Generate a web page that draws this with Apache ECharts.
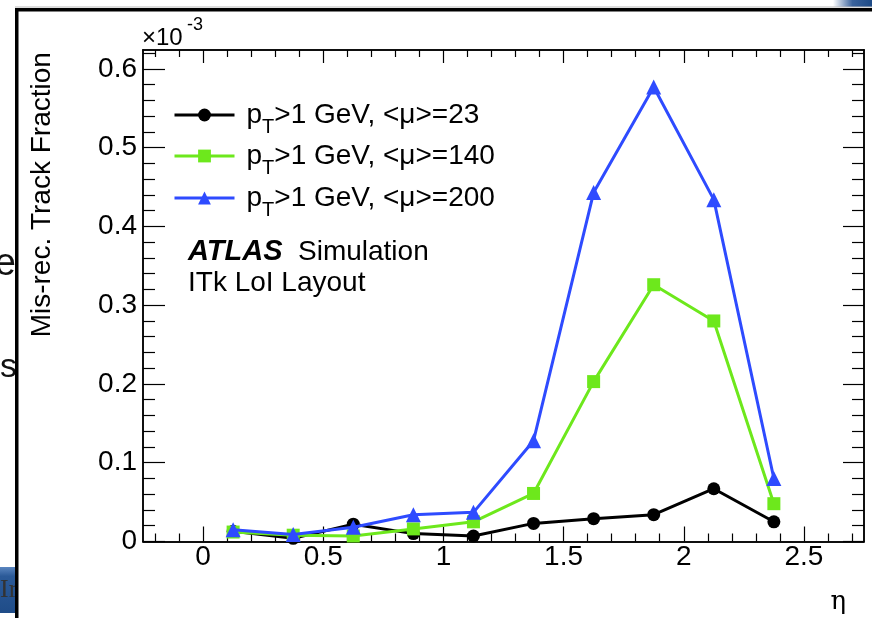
<!DOCTYPE html>
<html>
<head>
<meta charset="utf-8">
<script src="https://cdn.jsdelivr.net/npm/echarts@6/dist/echarts.min.js"></script>
<style>html,body{margin:0;padding:0;background:#fff;}#chart{width:872px;height:618px;}</style>
</head>
<body>
<div id="chart"></div>
<script>
// ---- data (values in units of 1e-3) ----
const etaCenters = [0.125, 0.375, 0.625, 0.875, 1.125, 1.375, 1.625, 1.875, 2.125, 2.375];
const mu23  = [0.013, 0.004, 0.022, 0.010, 0.007, 0.023, 0.029, 0.034, 0.067, 0.025];
const mu140 = [0.012, 0.008, 0.007, 0.016, 0.025, 0.061, 0.203, 0.326, 0.280, 0.048];
const mu200 = [0.015, 0.009, 0.018, 0.034, 0.037, 0.128, 0.443, 0.577, 0.434, 0.080];
const seriesNames = ['mu23', 'mu140', 'mu200'];
const seriesLabels = ['>1 GeV, <\u03bc>=23', '>1 GeV, <\u03bc>=140', '>1 GeV, <\u03bc>=200'];
const xMajorTicks = [0, 0.5, 1, 1.5, 2, 2.5];
const xMinorTicks = [-0.2, -0.1, 0.1, 0.2, 0.3, 0.4, 0.6, 0.7, 0.8, 0.9, 1.1, 1.2, 1.3, 1.4, 1.6, 1.7, 1.8, 1.9, 2.1, 2.2, 2.3, 2.4, 2.6, 2.7];
const yMajorTicks = [0, 0.1, 0.2, 0.3, 0.4, 0.5, 0.6];
const yMinorTicks = [0.02, 0.04, 0.06, 0.08, 0.12, 0.14, 0.16, 0.18, 0.22, 0.24, 0.26, 0.28, 0.32, 0.34, 0.36, 0.38, 0.42, 0.44, 0.46, 0.48, 0.52, 0.54, 0.56, 0.58, 0.62];
const xTitle = '\u03b7';
const yTitle = 'Mis-rec. Track Fraction';

const FONT = 'Liberation Sans, Arial, sans-serif';
const colors = ['#000000', '#6de81c', '#2e4bff'];
const symbols = ['circle', 'rect', 'triangle'];
const symbolSizes = [13, 13, 15];
const values = [mu23, mu140, mu200];

const XMIN = -0.25, XMAX = 2.75, YMIN = 0, YMAX = 0.624;
const axisLineStyle = { show: true, onZero: false, lineStyle: { color: '#000', width: 1.5 } };

function xAxis(pos, ticks, len, showLabel) {
  return {
    type: 'value', position: pos, min: XMIN, max: XMAX,
    axisLine: axisLineStyle,
    axisTick: { show: true, inside: true, length: len, customValues: ticks, lineStyle: { color: '#000', width: 1.2 } },
    axisLabel: showLabel ? { show: true, customValues: ticks, margin: 2, fontSize: 28, color: '#000', fontFamily: FONT } : { show: false },
    splitLine: { show: false }
  };
}
function yAxis(pos, ticks, len, showLabel) {
  return {
    type: 'value', position: pos, min: YMIN, max: YMAX,
    axisLine: axisLineStyle,
    axisTick: { show: true, inside: true, length: len, customValues: ticks, lineStyle: { color: '#000', width: 1.2 } },
    axisLabel: showLabel ? { show: true, customValues: ticks, margin: 6, fontSize: 28, color: '#000', fontFamily: FONT } : { show: false },
    splitLine: { show: false }
  };
}

const xAxes = [
  xAxis('bottom', xMajorTicks, 15, true),
  xAxis('bottom', xMinorTicks, 8, false),
  xAxis('top', xMajorTicks, 13, false),
  xAxis('top', xMinorTicks, 7, false)
];
xAxes[0].name = xTitle;
xAxes[0].nameLocation = 'end';
xAxes[0].nameGap = -18;
xAxes[0].nameTextStyle = { fontSize: 26, fontFamily: 'DejaVu Serif, serif', color: '#000', align: 'right', verticalAlign: 'top', padding: [48, 0, 0, 0] };

const yAxes = [
  yAxis('left', yMajorTicks, 22, true),
  yAxis('left', yMinorTicks, 12, false),
  yAxis('right', yMajorTicks, 21, false),
  yAxis('right', yMinorTicks, 12, false)
];
yAxes[0].name = yTitle;
yAxes[0].nameLocation = 'middle';
yAxes[0].nameGap = 87;
yAxes[0].nameTextStyle = { fontSize: 28, fontFamily: FONT, color: '#000', padding: [0, 0, 0, 202] };

const series = seriesNames.map((n, i) => ({
  name: n, type: 'line', xAxisIndex: 0, yAxisIndex: 0,
  data: etaCenters.map((x, j) => [x, values[i][j]]),
  symbol: symbols[i], symbolSize: symbolSizes[i],
  lineStyle: { color: colors[i], width: 3 },
  itemStyle: { color: colors[i] },
  z: 3 + i, animation: false
}));

const legendTops = [101, 142, 184];
const legends = seriesNames.map((n, i) => ({
  data: [n], orient: 'vertical', left: 173, top: legendTops[i], padding: 0,
  itemWidth: 60, itemHeight: 16, selectedMode: false,
  lineStyle: { width: 3 },
  formatter: () => '{a|p}{s|T}{a|' + seriesLabels[i] + '}',
  textStyle: {
    padding: [0, 0, 0, 7],
    rich: {
      a: { fontSize: 28, fontFamily: FONT, color: '#000' },
      s: { fontSize: 20, fontFamily: FONT, color: '#000', padding: [24, 0, 0, 0] }
    }
  }
}));

const chart = echarts.init(document.getElementById('chart'), null, { renderer: 'canvas' });
chart.setOption({
  backgroundColor: '#fff',
  animation: false,
  grid: { left: 143, top: 50, width: 721, height: 491.5, containLabel: false, outerBoundsMode: 'none' },
  xAxis: xAxes,
  yAxis: yAxes,
  legend: legends,
  series: series,
  graphic: [
    // slide decorations
    { type: 'rect', shape: { x: 833, y: 0, width: 39, height: 7 }, style: { fill: new echarts.graphic.LinearGradient(0, 0, 1, 0, [{ offset: 0, color: '#ffffff' }, { offset: 0.5, color: '#3b639c' }, { offset: 1, color: '#1d4a86' }]) }, silent: true },
    { type: 'rect', shape: { x: 15, y: 6.5, width: 857, height: 1 }, style: { fill: '#bbbbbb' }, silent: true },
    { type: 'rect', shape: { x: 15, y: 8, width: 857, height: 3.5 }, style: { fill: '#000' }, silent: true },
    { type: 'rect', shape: { x: 0, y: 567, width: 15, height: 46 }, style: { fill: new echarts.graphic.LinearGradient(0, 0, 0, 1, [{ offset: 0, color: '#5b86c0' }, { offset: 0.2, color: '#2b5a98' }, { offset: 1, color: '#1f4c88' }]) }, silent: true },
    { type: 'text', style: { x: 0, y: 590, text: 'Ir', font: '26px Liberation Serif, serif', fill: '#333', verticalAlign: 'middle' }, silent: true },
    { type: 'text', style: { x: 16, y: 265, text: 'e', font: '38px Liberation Sans, sans-serif', fill: '#111', align: 'right', verticalAlign: 'middle' }, silent: true },
    { type: 'text', style: { x: 17, y: 368, text: 'ns', font: '34px Liberation Sans, sans-serif', fill: '#111', align: 'right', verticalAlign: 'middle' }, silent: true },
    { type: 'rect', shape: { x: 15, y: 8, width: 3.5, height: 610 }, style: { fill: '#000' }, silent: true },
    // exponent label
    { type: 'text', style: { x: 142, y: 38, text: '\u00d710', font: '24px Liberation Sans, sans-serif', fill: '#000', verticalAlign: 'middle' }, silent: true },
    { type: 'text', style: { x: 187, y: 25, text: '-3', font: '18px Liberation Sans, sans-serif', fill: '#000', verticalAlign: 'middle' }, silent: true },
    // ATLAS label
    { type: 'text', style: { x: 188, y: 252, text: 'ATLAS', font: 'italic bold 29px Liberation Sans, sans-serif', fill: '#000', verticalAlign: 'middle' }, silent: true },
    { type: 'text', style: { x: 298, y: 252, text: 'Simulation', font: '28px Liberation Sans, sans-serif', fill: '#000', verticalAlign: 'middle' }, silent: true },
    { type: 'text', style: { x: 188, y: 283, text: 'ITk LoI Layout', font: '28px Liberation Sans, sans-serif', fill: '#000', verticalAlign: 'middle' }, silent: true }
  ]
});
</script>
</body>
</html>
